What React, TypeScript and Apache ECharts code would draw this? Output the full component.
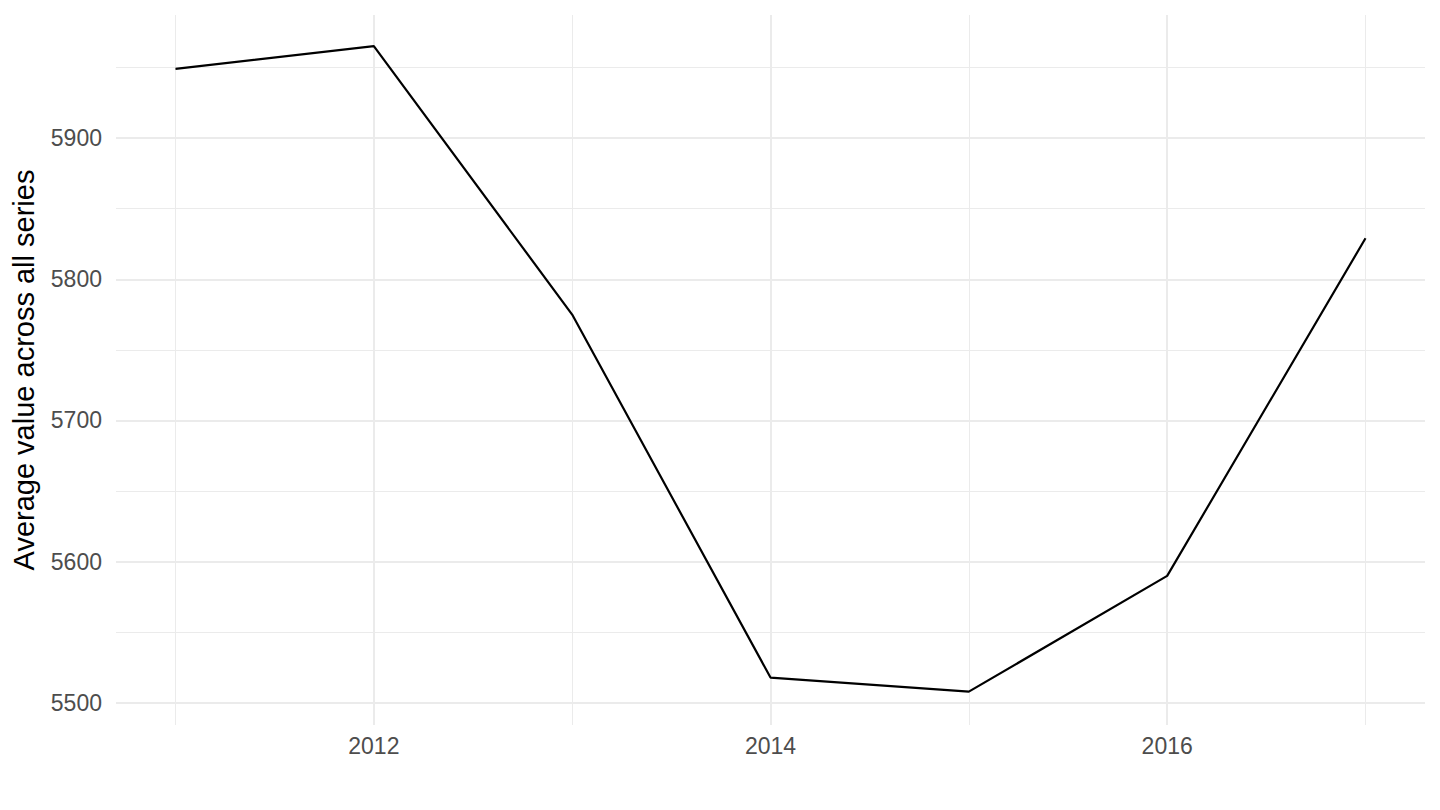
import React, { useEffect, useRef } from "react";
import * as echarts from "echarts";

const years = [2011, 2012, 2013, 2014, 2015, 2016, 2017];
const averages = [5949, 5965, 5775, 5518, 5508, 5590, 5829];
const xMajor = [2012, 2014, 2016];
const xMinor = [2011, 2013, 2015, 2017];
const yMajor = [5500, 5600, 5700, 5800, 5900];
const yMinor = [5550, 5650, 5750, 5850, 5950];
const yTitle = "Average value across all series";

export default function App() {
  const ref = useRef<HTMLDivElement>(null);
  useEffect(() => {
    if (!ref.current) return;
    const chart = echarts.init(ref.current, null, { renderer: "svg" });
    const grid = "#EBEBEB";
    const gridLines = [
      ...xMinor.map((v) => ({ xAxis: v, lineStyle: { color: grid, width: 1, type: "solid" } })),
      ...yMinor.map((v) => ({ yAxis: v, lineStyle: { color: grid, width: 1, type: "solid" } })),
      ...xMajor.map((v) => ({ xAxis: v, lineStyle: { color: grid, width: 2, type: "solid" } })),
      ...yMajor.map((v) => ({ yAxis: v, lineStyle: { color: grid, width: 2, type: "solid" } })),
    ];
    chart.setOption({
      animation: false,
      backgroundColor: "#ffffff",
      textStyle: { fontFamily: "Liberation Sans, Arial, sans-serif" },
      grid: { left: 116, right: 15, top: 15, bottom: 85, containLabel: false },
      xAxis: {
        type: "value",
        min: 2010.7,
        max: 2017.3,
        axisLine: { show: false },
        axisTick: { show: false },
        splitLine: { show: false },
        axisLabel: {
          customValues: xMajor,
          color: "#4D4D4D",
          fontSize: 23,
          margin: 9,
          formatter: (v: number) => String(v),
        },
      },
      yAxis: {
        type: "value",
        min: 5484.4,
        max: 5987.1,
        name: yTitle,
        nameLocation: "middle",
        nameGap: 78,
        nameTextStyle: { color: "#000000", fontSize: 29 },
        axisLine: { show: false },
        axisTick: { show: false },
        splitLine: { show: false },
        axisLabel: {
          customValues: yMajor,
          color: "#4D4D4D",
          fontSize: 23,
          margin: 14,
          formatter: (v: number) => String(v),
        },
      },
      series: [
        {
          type: "line",
          z: 1,
          data: years.map((y, i) => [y, averages[i]]),
          symbol: "none",
          lineStyle: { opacity: 0 },
          silent: true,
          markLine: {
            z: 1,
            silent: true,
            symbol: ["none", "none"],
            label: { show: false },
            animation: false,
            data: gridLines,
          },
        },
        {
          type: "line",
          z: 10,
          data: years.map((y, i) => [y, averages[i]]),
          symbol: "none",
          lineStyle: { color: "#000000", width: 2.2 },
        },
      ],
    });
    return () => chart.dispose();
  }, []);
  return (
    <div
      ref={ref}
      style={{ position: "fixed", left: 0, top: 0, width: 1440, height: 810 }}
    />
  );
}
